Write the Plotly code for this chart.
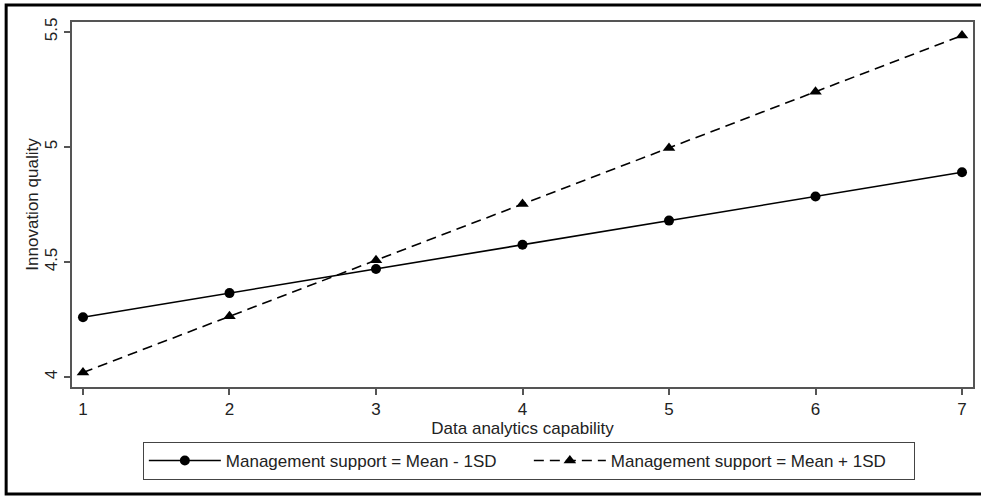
import plotly.graph_objects as go

x_vals = [1, 2, 3, 4, 5, 6, 7]
low_support = [4.26, 4.365, 4.47, 4.575, 4.68, 4.785, 4.89]
high_support = [4.02, 4.264, 4.508, 4.752, 4.996, 5.24, 5.484]
x_ticks = [1, 2, 3, 4, 5, 6, 7]
y_ticks = [4, 4.5, 5, 5.5]
y_tick_text = ["4", "4.5", "5", "5.5"]
names = ["Management support = Mean - 1SD", "Management support = Mean + 1SD"]

W, H = 981, 497
L, R, T, B = 72, 6, 22, 110
pw, ph = W - L - R, H - T - B

def px_x(p):
    return (p - L) / pw

def px_y(p):
    return (H - B - p) / ph

FONT = "Liberation Sans, Arial, sans-serif"

fig = go.Figure()
fig.add_trace(go.Scatter(
    x=x_vals, y=low_support, mode="lines+markers", name=names[0],
    line=dict(color="black", width=1.6),
    marker=dict(symbol="circle", size=10, color="black"),
))
fig.add_trace(go.Scatter(
    x=x_vals, y=high_support, mode="lines+markers", name=names[1],
    line=dict(color="black", width=1.6, dash="10px,6px"),
    marker=dict(symbol="triangle-up", size=11, color="black"),
))

axis_common = dict(
    showgrid=False, zeroline=False, showline=True, linecolor="#555555", linewidth=1.5,
    mirror=True, ticks="outside", ticklen=6, tickcolor="#555555", tickwidth=1.5,
    tickfont=dict(family=FONT, size=17, color="#222222"),
)

fig.update_layout(
    width=W, height=H,
    margin=dict(l=L, r=R, t=T, b=B),
    paper_bgcolor="white", plot_bgcolor="white",
    font=dict(family=FONT, color="#222222"),
    xaxis=dict(
        range=[0.925, 7.075], tickvals=x_ticks, **axis_common,
        title=dict(text="Data analytics capability", font=dict(size=17), standoff=0),
    ),
    yaxis=dict(
        range=[3.957, 5.543], tickvals=y_ticks, ticktext=y_tick_text, tickangle=-90,
        **axis_common,
        title=dict(text="Innovation quality", font=dict(size=17), standoff=0),
    ),
    legend=dict(
        orientation="h", x=px_x(143), y=px_y(442), xanchor="left", yanchor="top",
        bordercolor="#444444", borderwidth=1, bgcolor="white",
        font=dict(size=17, color="#222222"), entrywidth=298, itemwidth=72,
    ),
    showlegend=True,
    shapes=[
        dict(type="path", xref="paper", yref="paper",
             path=f"M {px_x(W+2)},{px_y(5)} L {px_x(6)},{px_y(5)} L {px_x(6)},{px_y(494)} L {px_x(W+2)},{px_y(494)}",
             line=dict(color="black", width=3)),
    ],
)

fig.write_html("out.html")
